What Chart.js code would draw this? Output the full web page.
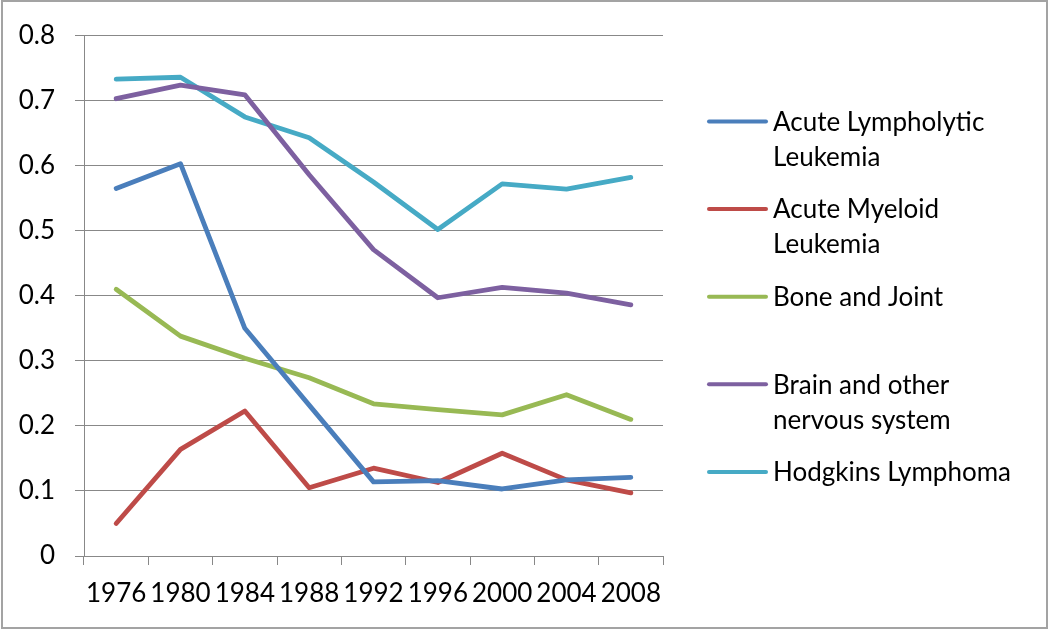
<!DOCTYPE html>
<html>
<head>
<meta charset="utf-8">
<script src="https://cdn.jsdelivr.net/npm/chart.js@4.4.0/dist/chart.umd.min.js"></script>
<style>
  html, body { margin: 0; padding: 0; background: #fff; }
  #wrap { position: relative; width: 1050px; height: 630px; }
  #frame { position: absolute; left: 1px; top: 0; width: 1047px; height: 629px;
           border: 2px solid #a3a3a3; box-sizing: border-box; pointer-events: none; }
  canvas { position: absolute; left: 0; top: 0; }
</style>
</head>
<body>
<div id="wrap">
  <canvas id="chart" width="1050" height="630"></canvas>
  <div id="frame"></div>
</div>
<script>
const years = ["1976", "1980", "1984", "1988", "1992", "1996", "2000", "2004", "2008"];

const acuteLympholytic = [0.565, 0.603, 0.350, 0.232, 0.114, 0.116, 0.103, 0.117, 0.121];
const acuteMyeloid     = [0.050, 0.164, 0.223, 0.105, 0.135, 0.113, 0.158, 0.117, 0.097];
const boneJoint        = [0.410, 0.338, 0.304, 0.274, 0.234, 0.225, 0.217, 0.248, 0.210];
const brainNervous     = [0.703, 0.724, 0.709, 0.586, 0.471, 0.397, 0.413, 0.404, 0.386];
const hodgkins         = [0.733, 0.736, 0.675, 0.643, 0.575, 0.502, 0.572, 0.564, 0.582];

const seriesNames = [
  ["Acute Lympholytic", "Leukemia"],
  ["Acute Myeloid", "Leukemia"],
  ["Bone and Joint"],
  ["Brain and other", "nervous system"],
  ["Hodgkins Lymphoma"]
];
const seriesColors = ["#4a7ebb", "#be4b48", "#98b954", "#7d60a0", "#46aac5"];
const seriesValues = [acuteLympholytic, acuteMyeloid, boneJoint, brainNervous, hodgkins];

const FONT = "Lato, 'Open Sans', sans-serif";
const GRID = "#888888";

// legend drawn on the canvas, Excel style: swatch + wrapped label
const sideLegend = {
  id: "sideLegend",
  afterDraw(chart) {
    const ctx = chart.ctx;
    ctx.save();
    ctx.font = "26px " + FONT;
    ctx.textBaseline = "middle";
    ctx.fillStyle = "#000";
    chart.data.datasets.forEach((ds, i) => {
      const y = 121.5 + i * 87.6;
      ctx.strokeStyle = ds.borderColor;
      ctx.lineWidth = 4;
      ctx.lineCap = "round";
      ctx.beginPath();
      ctx.moveTo(709, y);
      ctx.lineTo(766, y);
      ctx.stroke();
      ds.legendLines.forEach((t, k) => {
        ctx.fillText(t, 773, y + 1 + k * 35);
      });
    });
    ctx.restore();
  }
};

new Chart(document.getElementById("chart"), {
  type: "line",
  data: {
    labels: years,
    datasets: seriesValues.map((vals, i) => ({
      label: seriesNames[i].join(" "),
      legendLines: seriesNames[i],
      data: vals,
      borderColor: seriesColors[i],
      backgroundColor: seriesColors[i],
      borderWidth: 4.8,
      borderCapStyle: "round",
      borderJoinStyle: "round",
      pointRadius: 0,
      tension: 0,
      fill: false
    }))
  },
  options: {
    responsive: false,
    animation: false,
    layout: { padding: { top: 31, right: 387, left: 0, bottom: 0 } },
    plugins: { legend: { display: false }, tooltip: { enabled: false } },
    scales: {
      x: {
        offset: true,
        grid: { offset: true, drawOnChartArea: false, drawTicks: true, tickLength: 9, color: GRID },
        border: { color: GRID, width: 1 },
        ticks: { color: "#000", font: { family: FONT, size: 26 }, padding: 13, maxRotation: 0, autoSkip: false },
        afterFit(s) { s.height = 74; }
      },
      y: {
        min: 0,
        max: 0.8,
        ticks: {
          stepSize: 0.1,
          color: "#000",
          font: { family: FONT, size: 26 },
          padding: 20,
          callback: v => String(+v.toFixed(1))
        },
        grid: { color: GRID, tickLength: 9, lineWidth: 1 },
        border: { color: GRID, width: 1 },
        afterFit(s) { s.width = 84; }
      }
    }
  },
  plugins: [sideLegend]
});
</script>
</body>
</html>
